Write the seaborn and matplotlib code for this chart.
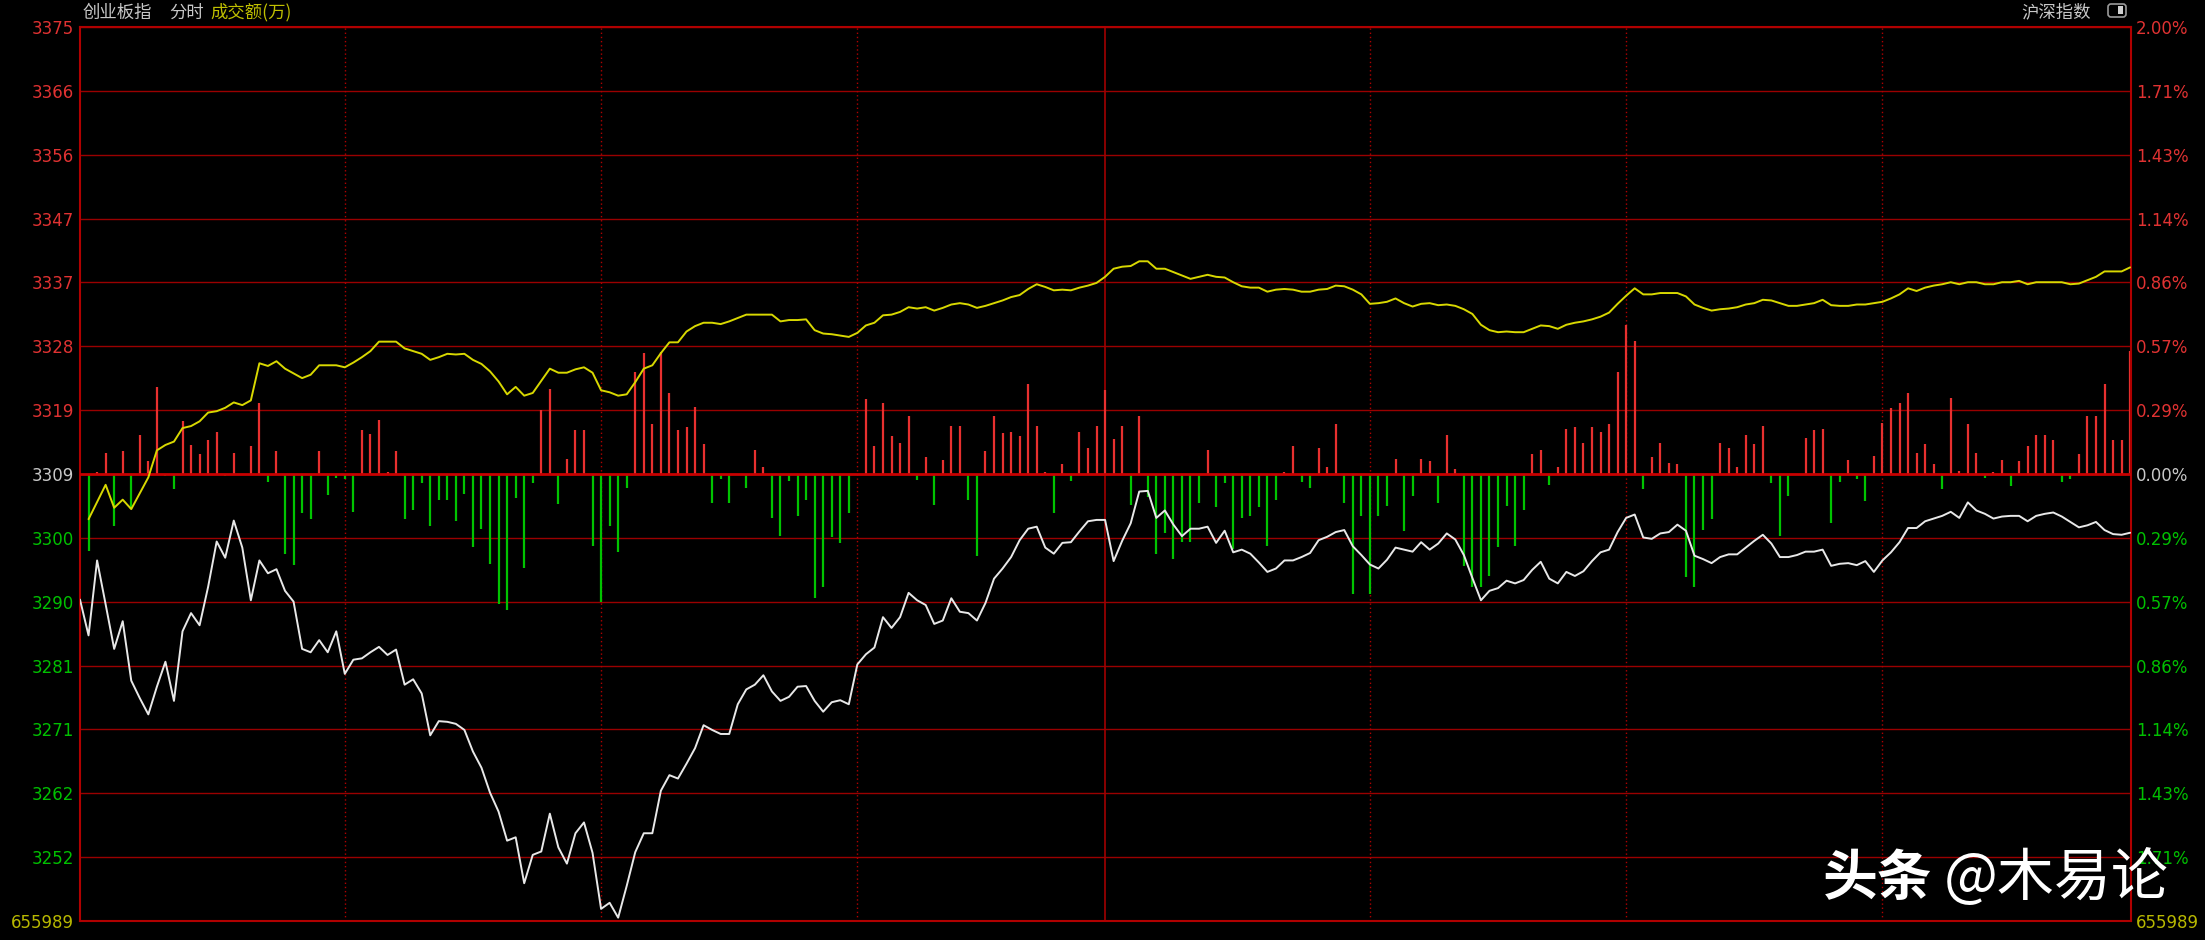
import matplotlib
matplotlib.use('Agg')
import matplotlib.pyplot as plt
import seaborn as sns
from matplotlib.patches import FancyBboxPatch, Rectangle
from matplotlib.transforms import IdentityTransform

# previous close and axis labels
pre_close = 3309.3
left_labels = ['3375', '3366', '3356', '3347', '3337', '3328', '3319', '3309',
               '3300', '3290', '3281', '3271', '3262', '3252', '655989']
right_labels = ['2.00%', '1.71%', '1.43%', '1.14%', '0.86%', '0.57%', '0.29%', '0.00%',
                '0.29%', '0.57%', '0.86%', '1.14%', '1.43%', '1.71%', '655989']

# index price, one value per minute (0 = 9:30)
price = [
    3290.7, 3285.4, 3296.5, 3290.0, 3283.4, 3287.5, 3278.7, 3276.1, 3273.7, 3277.8,
    3281.5, 3275.7, 3286.0, 3288.7, 3286.9, 3292.6, 3299.3, 3296.9, 3302.4, 3298.4,
    3290.6, 3296.5, 3294.6, 3295.2, 3292.0, 3290.4, 3283.4, 3282.9, 3284.7, 3282.9,
    3286.0, 3279.7, 3281.8, 3282.0, 3282.9, 3283.7, 3282.5, 3283.3, 3278.1, 3278.9,
    3276.8, 3270.6, 3272.7, 3272.6, 3272.3, 3271.4, 3268.2, 3265.8, 3262.1, 3259.3,
    3255.0, 3255.5, 3248.7, 3252.9, 3253.4, 3259.0, 3254.0, 3251.6, 3256.1, 3257.7,
    3253.2, 3244.9, 3245.8, 3243.6, 3248.3, 3253.3, 3256.1, 3256.1, 3262.4, 3264.7,
    3264.2, 3266.4, 3268.7, 3272.1, 3271.4, 3270.8, 3270.8, 3275.2, 3277.4, 3278.1,
    3279.5, 3277.1, 3275.7, 3276.3, 3277.8, 3277.9, 3275.7, 3274.1, 3275.5, 3275.8,
    3275.2, 3281.1, 3282.6, 3283.6, 3288.1, 3286.5, 3288.1, 3291.7, 3290.6, 3289.9,
    3287.1, 3287.6, 3290.9, 3288.9, 3288.7, 3287.6, 3290.2, 3293.8, 3295.3, 3297.0,
    3299.5, 3301.2, 3301.5, 3298.4, 3297.5, 3299.1, 3299.2, 3300.8, 3302.3, 3302.5,
    3302.5, 3296.4, 3299.4, 3302.0, 3306.7, 3306.8, 3302.8, 3303.9, 3301.8, 3300.1,
    3301.2, 3301.2, 3301.5, 3299.1, 3300.9, 3297.7, 3298.1, 3297.5, 3296.2, 3294.8,
    3295.3, 3296.5, 3296.5, 3297.0, 3297.6, 3299.5, 3300.0, 3300.7, 3301.0, 3298.6,
    3297.3, 3295.9, 3295.3, 3296.6, 3298.4, 3298.1, 3297.8, 3299.2, 3298.1, 3299.0,
    3300.5, 3299.6, 3297.3, 3293.9, 3290.6, 3292.0, 3292.4, 3293.5, 3293.1, 3293.6,
    3295.1, 3296.3, 3293.8, 3293.1, 3294.8, 3294.2, 3294.9, 3296.4, 3297.7, 3298.1,
    3300.7, 3302.8, 3303.3, 3299.9, 3299.7, 3300.5, 3300.7, 3301.8, 3300.9, 3297.2,
    3296.7, 3296.1, 3297.0, 3297.4, 3297.4, 3298.4, 3299.4, 3300.3, 3299.0, 3297.0,
    3297.0, 3297.3, 3297.8, 3297.8, 3298.1, 3295.7, 3296.0, 3296.1, 3295.8, 3296.4,
    3294.8, 3296.5, 3297.7, 3299.2, 3301.3, 3301.3, 3302.3, 3302.7, 3303.1, 3303.7,
    3302.8, 3305.1, 3303.9, 3303.4, 3302.7, 3303.0, 3303.1, 3303.1, 3302.3, 3303.1,
    3303.4, 3303.6, 3303.0, 3302.2, 3301.4, 3301.7, 3302.2, 3301.0, 3300.4, 3300.3,
    3300.6]

# yellow leading line
lead_x = [1, 3, 4, 5, 6] + list(range(8, 29)) + list(range(30, 36)) + list(range(37, 241))
lead = [
    3302.6, 3307.7, 3304.3, 3305.5, 3304.1,
    3308.8, 3312.8, 3313.6, 3314.1, 3316.1, 3316.4, 3317.1, 3318.4, 3318.6, 3319.1,
    3319.9, 3319.5, 3320.2, 3325.7, 3325.3, 3326.0, 3324.9, 3324.2, 3323.5, 3324.0,
    3325.4,
    3325.4, 3325.1, 3325.8, 3326.6, 3327.5, 3328.9,
    3328.9, 3327.9, 3327.5, 3327.1, 3326.2, 3326.6, 3327.1, 3327.0, 3327.1, 3326.2,
    3325.6, 3324.5, 3323.0, 3321.1, 3322.2, 3320.9, 3321.3, 3323.1, 3324.9, 3324.3,
    3324.3, 3324.8, 3325.1, 3324.3, 3321.7, 3321.4, 3320.9, 3321.1, 3322.9, 3324.9,
    3325.4, 3327.2, 3328.8, 3328.8, 3330.4, 3331.2, 3331.7, 3331.7, 3331.5, 3331.9,
    3332.4, 3332.9, 3332.9, 3332.9, 3332.9, 3331.9, 3332.1, 3332.1, 3332.2, 3330.6,
    3330.1, 3330.0, 3329.8, 3329.6, 3330.2, 3331.3, 3331.7, 3332.8, 3332.9, 3333.3,
    3334.0, 3333.8, 3334.0, 3333.5, 3333.9, 3334.4, 3334.6, 3334.4, 3333.9, 3334.2,
    3334.6, 3335.0, 3335.5, 3335.8, 3336.7, 3337.4, 3337.0, 3336.5, 3336.6, 3336.5,
    3336.9, 3337.2, 3337.6, 3338.5, 3339.7, 3340.0, 3340.1, 3340.8, 3340.8, 3339.7,
    3339.7, 3339.2, 3338.7, 3338.2, 3338.5, 3338.8, 3338.5, 3338.4, 3337.7, 3337.1,
    3336.9, 3336.9, 3336.3, 3336.6, 3336.7, 3336.6, 3336.3, 3336.3, 3336.6, 3336.7,
    3337.2, 3337.1, 3336.6, 3335.9, 3334.5, 3334.6, 3334.8, 3335.3, 3334.6, 3334.1,
    3334.5, 3334.6, 3334.3, 3334.4, 3334.2, 3333.7, 3333.0, 3331.4, 3330.6, 3330.3,
    3330.4, 3330.3, 3330.3, 3330.8, 3331.3, 3331.2, 3330.8, 3331.4, 3331.7, 3331.9,
    3332.2, 3332.6, 3333.2, 3334.5, 3335.7, 3336.8, 3335.9, 3335.9, 3336.1, 3336.1,
    3336.1, 3335.6, 3334.4, 3333.9, 3333.5, 3333.7, 3333.8, 3334.0, 3334.4, 3334.6,
    3335.1, 3335.0, 3334.6, 3334.2, 3334.2, 3334.4, 3334.6, 3335.1, 3334.3, 3334.2,
    3334.2, 3334.4, 3334.4, 3334.6, 3334.8, 3335.3, 3335.9, 3336.8, 3336.4, 3336.9,
    3337.2, 3337.4, 3337.7, 3337.4, 3337.7, 3337.7, 3337.4, 3337.4, 3337.7, 3337.7,
    3337.9, 3337.4, 3337.7, 3337.7, 3337.7, 3337.7, 3337.4, 3337.5, 3338.0, 3338.5,
    3339.3, 3339.3, 3339.3, 3339.9]

# red (up) and green (down) bars around the zero line
up_x = [2, 3, 5, 7, 8, 9, 12, 13, 14, 15, 16, 18, 20, 21, 23, 28, 33, 34, 35, 36, 37,
        54, 55, 57, 58, 59, 65, 66, 67, 68, 69, 70, 71, 72, 73, 79, 80, 92, 93, 94, 95,
        96, 97, 99, 101, 102, 103, 106, 107, 108, 109, 110, 111, 112, 113, 115, 117, 118,
        119, 120, 121, 122, 124, 132, 141, 142, 145, 146, 147, 154, 157, 158, 160, 161,
        170, 171, 173, 174, 175, 176, 177, 178, 179, 180, 181, 182, 184, 185, 186, 187,
        192, 193, 194, 195, 196, 197, 202, 203, 204, 207, 210, 211, 212, 213, 214, 215,
        216, 217, 219, 220, 221, 222, 224, 225, 227, 228, 229, 230, 231, 234, 235, 236,
        237, 238, 239, 240]
up_v = [0.32, 3.17, 3.36, 5.82, 1.87, 12.86, 7.89, 4.33, 2.97, 4.98, 6.27, 3.17, 4.14,
        10.47, 3.36, 3.36, 6.46, 5.95, 8.02, 0.32, 3.36,
        9.50, 12.60, 2.26, 6.46, 6.46, 15.13, 17.91, 7.37, 18.10, 11.96, 6.46, 6.92, 9.95,
        4.46, 3.56, 1.10, 11.12, 4.14, 10.47, 5.62,
        4.52, 8.66, 2.52, 2.07, 7.11, 7.11, 3.36, 8.66, 6.08, 6.27, 5.62, 13.38, 7.11, 0.32,
        1.42, 6.27, 3.81, 7.11, 12.41, 5.17, 7.11, 8.66, 3.56, 0.32, 4.14, 3.81, 0.97, 7.37,
        2.26, 2.26, 1.87, 5.82, 0.78,
        2.91, 3.56, 0.97, 6.72, 6.92, 4.65, 6.92, 6.27, 7.37, 15.13, 22.11, 19.65, 2.52,
        4.65, 1.62, 1.42,
        4.65, 3.81, 1.10, 5.82, 4.46, 7.11, 5.30, 6.46, 6.72, 2.07, 2.71, 7.56, 9.83, 10.47,
        11.96, 3.17, 4.46, 1.42, 11.31, 0.45, 7.37, 3.17, 0.32, 2.07, 1.87, 4.14, 5.82,
        5.82, 4.98, 2.91, 8.66, 8.66, 13.38, 4.98, 4.98, 18.23]
down_x = [1, 4, 6, 10, 11, 17, 22, 24, 25, 26, 27, 29, 30, 31, 32, 38, 39, 40, 41, 42, 43,
          44, 45, 46, 47, 48, 49, 50, 51, 52, 53, 56, 60, 61, 62, 63, 64, 74, 75, 76, 78,
          81, 82, 83, 84, 85, 86, 87, 88, 89, 90, 98, 100, 104, 105, 114, 116, 123, 125,
          126, 127, 128, 129, 130, 131, 133, 134, 135, 136, 137, 138, 139, 140, 143, 144,
          148, 149, 150, 151, 152, 153, 155, 156, 159, 162, 163, 164, 165, 166, 167, 168,
          169, 172, 183, 188, 189, 190, 191, 198, 199, 200, 205, 206, 208, 209, 218, 223,
          226, 232, 233]
down_v = [-11.38, -7.63, -5.17, -0.32, -2.26, -0.32, -1.16, -11.83, -13.45, -5.82, -6.66,
          -3.10, -0.52, -0.71, -5.56, -6.66, -5.37, -1.36, -7.76, -3.88, -3.88,
          -6.98, -2.97, -10.86, -8.08, -13.32, -19.26, -20.10, -3.62, -13.96, -1.36, -4.40,
          -10.67, -18.94, -7.63, -11.51, -2.13, -4.27, -0.71, -4.27, -2.00,
          -6.46, -9.11, -0.97, -6.21, -3.88, -18.29, -16.68, -9.37, -10.21, -5.82, -0.84,
          -4.52, -3.88, -12.15, -5.82, -1.03, -4.52, -3.43,
          -11.83, -8.73, -12.60, -10.08, -10.08, -4.27, -4.91, -1.36, -11.18, -6.46, -6.21,
          -4.91, -10.67, -3.88, -1.16, -2.13,
          -4.27, -17.78, -6.21, -17.78, -6.21, -4.72, -8.47, -3.30, -4.27, -13.57, -16.68,
          -16.68, -15.06, -10.86, -4.72, -10.67,
          -5.37, -1.62, -2.26, -15.19, -16.68, -8.27, -6.66, -1.36, -9.11, -3.30, -7.30,
          -1.16, -0.71, -3.94, -2.26, -0.52,
          -1.81, -1.16, -0.71]

half_hours = [31, 61, 91, 151, 181, 211]
midday = 120

sns.set_style('dark', {'axes.facecolor': 'black', 'figure.facecolor': 'black'})
plt.rcParams['font.family'] = ['Noto Sans CJK SC', 'DejaVu Sans']

fig = plt.figure(figsize=(22.05, 9.4), dpi=100)
ax = fig.add_axes([80 / 2205, 19 / 940, 2051 / 2205, 894 / 940])
ax.set_facecolor('black')

step = pre_close * 0.02 / 7
levels = [pre_close + k * step for k in range(7, -8, -1)]

# grid
for k, lv in enumerate(levels):
    if k == 7:
        ax.axhline(lv, color='#c80000', lw=2.0, zorder=2.6)
    else:
        ax.axhline(lv, color='#9a0000', lw=1.0, zorder=1)
for t in half_hours:
    ax.axvline(t, color='#b00000', lw=1.0, ls=(0, (1, 2)), zorder=1)
ax.axvline(midday, color='#a00000', lw=1.2, zorder=1)

# bars
ax.vlines(up_x, pre_close, [pre_close + v for v in up_v], colors='#e8302f', lw=1.6, zorder=2)
ax.vlines(down_x, pre_close, [pre_close + v for v in down_v], colors='#00c400', lw=1.6, zorder=2)

# lines
sns.lineplot(x=lead_x, y=lead, color='#d8d800', linewidth=1.4, ax=ax, zorder=3, estimator=None)
sns.lineplot(x=list(range(len(price))), y=price, color='#e8e8e8', linewidth=1.4, ax=ax,
             zorder=4, estimator=None)

ax.set_xlim(0, 240.1)
ax.set_ylim(levels[-1] - 0.01, levels[0] + 0.01)
ax.set_xticks([])
ax.set_xlabel('')
ax.set_ylabel('')

label_colors = ['#e03232'] * 7 + ['#c8c8c8'] + ['#00c000'] * 6 + ['#b8b800']

ax.set_yticks(levels, labels=left_labels)
ax.tick_params(axis='y', length=0, pad=4.3, labelsize=12)
for lab, c in zip(ax.get_yticklabels(), label_colors):
    lab.set_color(c)
    lab.set_fontfamily('DejaVu Sans')

ax2 = ax.twinx()
ax2.set_ylim(ax.get_ylim())
ax2.set_yticks(levels, labels=right_labels)
ax2.tick_params(axis='y', length=0, pad=3.6, labelsize=12)
for lab, c in zip(ax2.get_yticklabels(), label_colors):
    lab.set_color(c)
    lab.set_fontfamily('DejaVu Sans')
ax2.grid(False)
for s in ax2.spines.values():
    s.set_visible(False)

for s in ax.spines.values():
    s.set_color('#b00000')
    s.set_linewidth(1.5)

# header
ty = 1 - 12.5 / 940
fig.text(83 / 2205, ty, '创业板指', color='#c8c8c8', fontsize=12.5, va='center', ha='left')
fig.text(169 / 2205, ty, '分时', color='#c8c8c8', fontsize=12.5, va='center', ha='left')
fig.text(210 / 2205, ty, '成交额(万)', color='#c0c000', fontsize=12.5, va='center', ha='left')
fig.text(2091 / 2205, ty, '沪深指数', color='#c8c8c8', fontsize=12.5, va='center', ha='right')

icon = FancyBboxPatch((2108, 923), 18, 13, boxstyle='round,pad=0,rounding_size=3',
                      transform=IdentityTransform(), facecolor='black',
                      edgecolor='#9a9a9a', lw=1.2)
fig.add_artist(icon)
fig.add_artist(Rectangle((2118, 926), 5, 8, transform=IdentityTransform(),
                         facecolor='#d0d0d0', edgecolor='none'))

# watermark
wy = 1 - 879 / 940
fig.text(1823 / 2205, wy, '头条', color='white', fontsize=39.5, fontweight='bold',
         va='center', ha='left')
fig.text(1944 / 2205, wy, '@木易论', color='white', fontsize=41, va='center', ha='left')

fig.savefig('out.png', dpi=100, facecolor='black')
